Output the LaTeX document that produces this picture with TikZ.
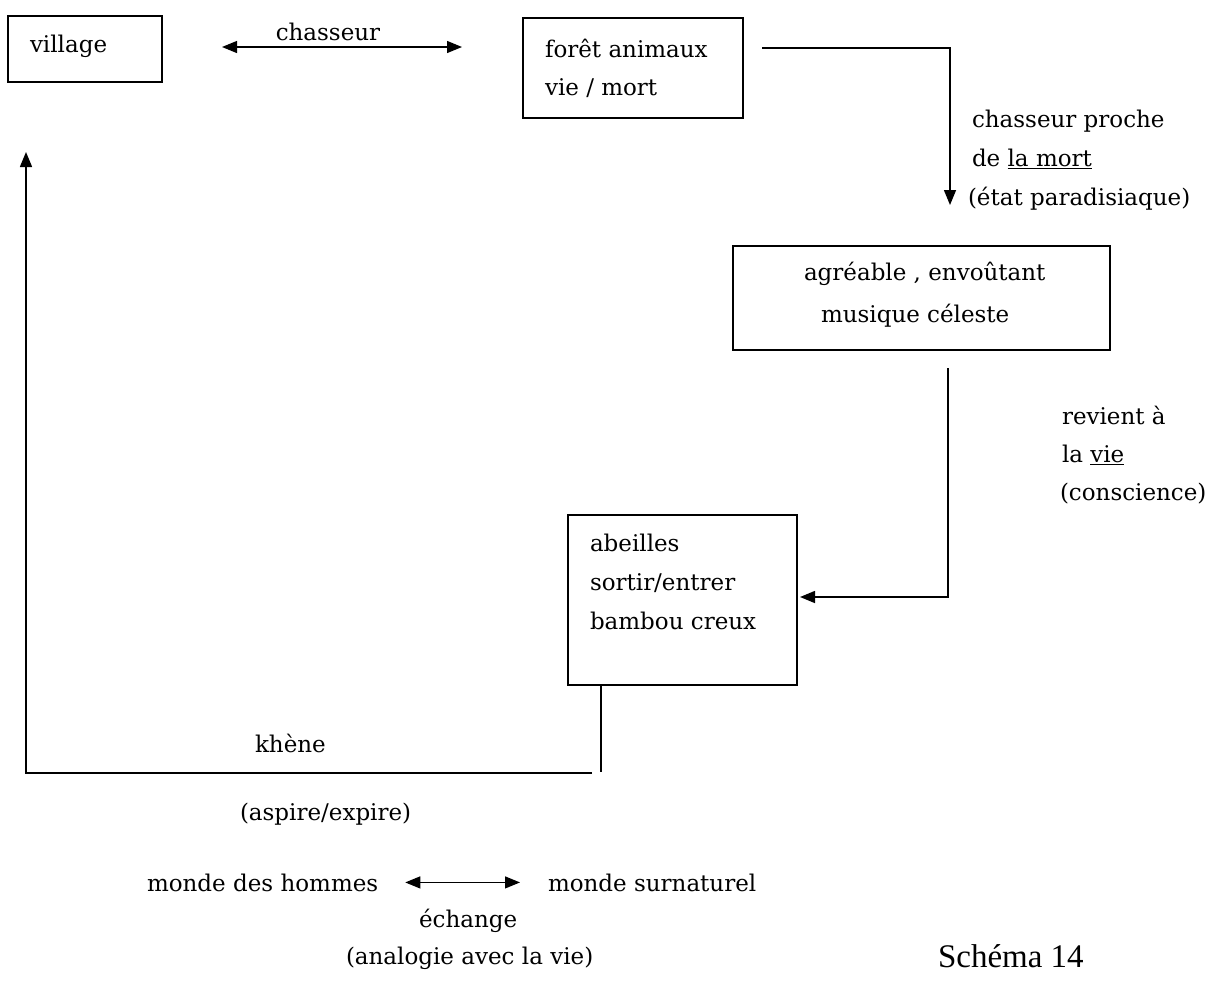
\documentclass[tikz,border=0pt]{standalone}
\usepackage{fontspec}
\setmainfont{DejaVu Serif}
\newfontfamily\schfont{Liberation Serif}
\usetikzlibrary{arrows.meta,calc}
\begin{document}
\begin{tikzpicture}[x=1pt,y=-1pt,
  every node/.style={inner sep=0pt, outer sep=0pt},
  boxframe/.style={draw, line width=1.4pt, anchor=north west},
  lbl/.style={font=\fontsize{23}{28}\selectfont, anchor=base west},
  lblc/.style={font=\fontsize{23}{28}\selectfont, anchor=base},
  wire/.style={line width=1.5pt},
  conn/.style={line width=1.5pt, -{Triangle[length=15pt,width=12pt]}},
  dbl/.style={line width=1.2pt, {Triangle[length=15pt,width=12pt]}-{Triangle[length=15pt,width=12pt]}},
]
\useasboundingbox (0,0) rectangle (1226,1004);

% boxes
\node[boxframe, minimum width=154pt, minimum height=66pt] (village) at (8,16) {};
\node[boxframe, minimum width=220pt, minimum height=100pt] (foret) at (523,18) {};
\node[boxframe, minimum width=377pt, minimum height=104pt] (agreable) at (733,246) {};
\node[boxframe, minimum width=229pt, minimum height=170pt] (abeilles) at (568,515) {};

% box texts
\node[lbl] (tvillage) at (30,52) {village};
\node[lbl] (tforet1) at (545,57) {forêt animaux};
\node[lbl] (tforet2) at (545,95) {vie / mort};
\node[lbl] (tagr1) at (804,280) {agréable , envoûtant};
\node[lbl] (tagr2) at (821,322) {musique céleste};
\node[lbl] (tab1) at (590,551) {abeilles};
\node[lbl] (tab2) at (590,590) {sortir/entrer};
\node[lbl] (tab3) at (590,629) {bambou creux};

% labels
\node[lblc] (lchasseur) at (328,40) {chasseur};
\node[lbl] (lcp1) at (972,127) {chasseur proche};
\node[lbl] (lcp2) at (972,166) {de \underline{la mort}};
\node[lbl] (lcp3) at (968,205) {(état paradisiaque)};
\node[lbl] (lrv1) at (1062,424) {revient à};
\node[lbl] (lrv2) at (1062,462) {la \underline{vie}};
\node[lbl] (lrv3) at (1060,500) {(conscience)};
\node[lbl] (lkhene) at (255,752) {khène};
\node[lbl] (laspire) at (240,820) {(aspire/expire)};
\node[lbl] (hommes) at (147,891) {monde des hommes};
\node[lbl] (surn) at (548,891) {monde surnaturel};
\node[lbl] (lechange) at (419,927) {échange};
\node[lbl] (lanalogie) at (346,964) {(analogie avec la vie)};
\node[anchor=base west, font=\schfont\fontsize{33}{38}\selectfont] (schema) at (938,967) {Schéma 14};

% connectors
\draw[dbl, shorten <=60pt, shorten >=61pt] ($(village.north east)+(0,31)$) -- ($(foret.north west)+(0,29)$);
\draw[conn] ($(foret.north east)+(19,30)$) -| ($(agreable.north west)+(217,-41)$);
\draw[conn] ($(agreable.south west)+(215,18)$) |- ($(abeilles.north east)+(3,82)$);
\draw[wire] ($(abeilles.south west)+(33,0)$) -- ($(abeilles.south west)+(33,87)$);
\draw[conn] ($(abeilles.south west)+(24,88)$) -| ($(village.south west)+(18,70)$);
\draw[dbl, shorten <=27pt, shorten >=28pt] (hommes.east) -- (surn.west);
\end{tikzpicture}
\end{document}
